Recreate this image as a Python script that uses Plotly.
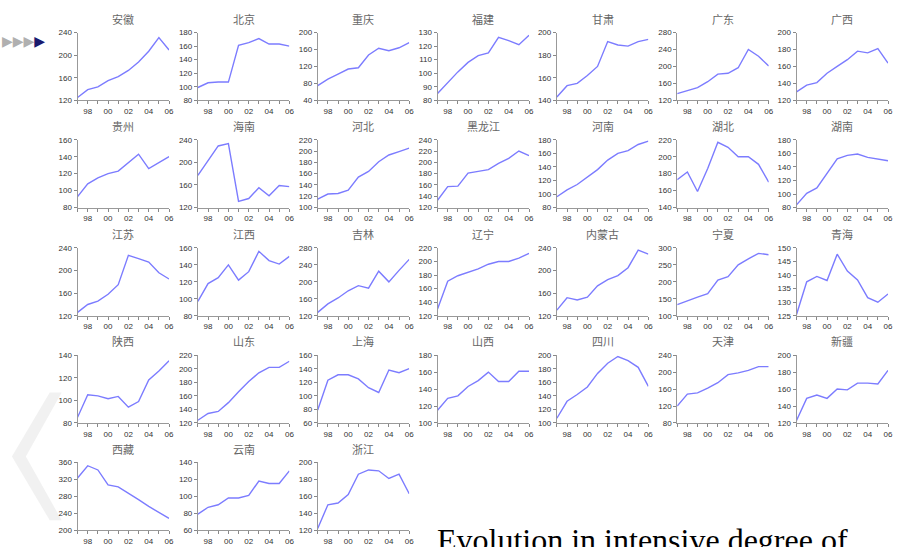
import plotly.graph_objects as go

years = list(range(1997, 2007))
year_labels = ["", "98", "", "00", "", "02", "", "04", "", "06"]

names = ["安徽", "北京", "重庆", "福建", "甘肃", "广东", "广西",
         "贵州", "海南", "河北", "黑龙江", "河南", "湖北", "湖南",
         "江苏", "江西", "吉林", "辽宁", "内蒙古", "宁夏", "青海",
         "陕西", "山东", "上海", "山西", "四川", "天津", "新疆",
         "西藏", "云南", "浙江"]

anhui = [125, 139, 144, 155, 162, 173, 188, 207, 231, 209]
beijing = [99, 106, 107, 107, 161, 165, 171, 163, 163, 160]
chongqing = [75, 90, 102, 114, 117, 147, 163, 157, 164, 176]
fujian = [85, 93, 101, 108, 113, 115, 126.5, 124, 121, 128]
gansu = [143, 153, 155, 162, 170, 192, 189, 188, 192, 194]
guangdong = [136, 143, 150, 164, 182, 184, 197, 240, 224, 201]
guangxi = [130, 138, 141, 152, 160, 168, 178, 176, 181, 164]
guizhou = [93, 108, 115, 120, 123, 133, 143, 126, 133, 140]
hainan = [177, 203, 229, 233, 131, 136, 155, 141, 159, 157]
hebei = [115, 124, 125, 131, 154, 164, 181, 193, 199, 205]
heilongjiang = [133, 157, 158, 181, 184, 187, 198, 207, 220, 212]
henan = [96, 106, 114, 125, 136, 150, 160, 164, 173, 178]
hubei = [173, 182, 159, 186, 217, 211, 200, 200, 191, 170]
hunan = [84, 101, 109, 131, 152, 157, 159, 154, 151, 149]
jiangsu = [126, 140, 146, 158, 175, 227, 221, 215, 196, 185]
jiangxi = [97, 118, 125, 140, 122, 132, 156, 145, 141, 150]
jilin = [128, 148, 162, 179, 191, 185, 225, 200, 227, 253]
liaoning = [130, 171, 179, 184, 189, 196, 200, 200, 205, 212]
neimenggu = [130, 152, 148, 153, 173, 184, 191, 205, 236, 229]
ningxia = [133, 145, 155, 165, 205, 215, 250, 268, 284, 280]
qinghai = [125.5, 137.5, 139.5, 138, 147.7, 141.5, 138.2, 131.7, 130, 133]
shaanxi = [85, 105, 104, 101.5, 103.5, 94, 99, 118, 126, 135]
shandong = [124, 134, 137, 150, 166, 181, 194, 202, 202, 211]
shanghai = [79, 123, 131, 131, 125, 112, 105, 138, 134, 140]
shanxi = [115, 129, 132, 143, 150, 160, 149, 149, 161, 161]
sichuan = [107, 132, 142, 153, 173, 188, 198, 192, 182, 154]
tianjin = [120, 148, 151, 162, 175, 194, 198, 204, 213, 213]
xinjiang = [123, 149, 153, 149, 160, 159, 167, 167, 166, 182]
xizang = [323, 352, 342, 307, 302, 288, 272, 256, 242, 228]
yunnan = [79, 87, 90, 98, 98, 101, 118, 115, 115, 130]
zhejiang = [122, 150, 152, 162, 186, 191, 190, 181, 186, 163]

values = [anhui, beijing, chongqing, fujian, gansu, guangdong, guangxi,
          guizhou, hainan, hebei, heilongjiang, henan, hubei, hunan,
          jiangsu, jiangxi, jilin, liaoning, neimenggu, ningxia, qinghai,
          shaanxi, shandong, shanghai, shanxi, sichuan, tianjin, xinjiang,
          xizang, yunnan, zhejiang]

# y-axis tick scale per panel: (min, max, step)
y_min = [120, 80, 40, 80, 140, 120, 120,
         80, 120, 100, 120, 80, 140, 80,
         120, 80, 120, 120, 120, 100, 125,
         80, 120, 60, 100, 100, 80, 120,
         200, 60, 120]
y_max = [240, 180, 200, 130, 200, 280, 200,
         160, 240, 220, 240, 180, 220, 180,
         240, 160, 280, 220, 240, 300, 150,
         140, 220, 160, 180, 200, 240, 200,
         360, 140, 200]
y_step = [40, 20, 40, 10, 20, 40, 20,
          20, 40, 20, 20, 20, 20, 20,
          40, 20, 40, 20, 40, 50, 5,
          20, 20, 20, 20, 20, 40, 20,
          40, 20, 20]

W, H = 897, 547
col_left = [78, 199, 319.5, 440, 560, 681, 801]
row_top = [29, 138, 248, 357, 466]
pw, ph = 92, 69

fig = go.Figure()
layout = dict(width=W, height=H, margin=dict(l=0, r=0, t=0, b=0),
              paper_bgcolor="white", plot_bgcolor="white", showlegend=False)
annotations = []
tick_font = dict(family="Liberation Sans, Arial", size=8, color="#333333")

for i, (name, vals) in enumerate(zip(names, values)):
    r, c = divmod(i, 7)
    k = i + 1
    xa = "x" if k == 1 else f"x{k}"
    ya = "y" if k == 1 else f"y{k}"
    fig.add_trace(go.Scatter(x=years, y=vals, mode="lines", xaxis=xa, yaxis=ya,
                             line=dict(color="#7c7cff", width=1.4),
                             hoverinfo="x+y"))
    x0 = col_left[c] / W
    x1 = min((col_left[c] + pw) / W, 1.0)
    y1 = 1 - row_top[r] / H
    y0 = 1 - (row_top[r] + ph) / H
    n_ticks = int(round((y_max[i] - y_min[i]) / y_step[i]))
    yticks = [y_min[i] + j * y_step[i] for j in range(n_ticks + 1)]
    layout["xaxis" if k == 1 else f"xaxis{k}"] = dict(
        domain=[x0, x1], anchor=ya, range=[1997, 2006],
        tickvals=years, ticktext=year_labels, ticks="outside", ticklen=3,
        tickcolor="#888888", showline=True, linecolor="#999999", linewidth=1,
        showgrid=False, zeroline=False, tickfont=tick_font, fixedrange=True,
        ticklabeloverflow="allow")
    layout["yaxis" if k == 1 else f"yaxis{k}"] = dict(
        domain=[y0, y1], anchor=xa, range=[y_min[i], y_max[i]],
        tickvals=yticks, ticks="outside", ticklen=3, tickcolor="#888888",
        showline=True, linecolor="#999999", linewidth=1, showgrid=False,
        zeroline=False, tickfont=tick_font, fixedrange=True)
    annotations.append(dict(
        text=name, x=(x0 + x1) / 2, y=1 - (row_top[r] - 14) / H,
        xref="paper", yref="paper", showarrow=False, xanchor="center",
        yanchor="middle",
        font=dict(family="Noto Sans CJK SC", size=11, color="#666666")))

# decorative elements
annotations.append(dict(text="<span style='color:#b0b0b0'>▶▶▶</span><span style='color:#1a1a6e'>▶</span>",
                        x=0, y=1 - 38 / H, xref="paper", yref="paper", showarrow=False,
                        xanchor="left", yanchor="middle",
                        font=dict(family="DejaVu Sans", size=14)))
annotations.append(dict(text="Evolution in intensive degree of", x=437 / W, y=1 - 525 / H,
                        xref="paper", yref="paper", showarrow=False, xanchor="left",
                        yanchor="top",
                        font=dict(family="Liberation Serif, Times New Roman", size=32,
                                  color="#000000")))
layout["annotations"] = annotations
layout["shapes"] = [dict(type="path", xref="paper", yref="paper",
                         path=(f"M {50/W} {1-395/H} L {12/W} {1-460/H} L {50/W} {1-525/H} "
                               f"L {62/W} {1-525/H} L {26/W} {1-460/H} L {62/W} {1-395/H} Z"),
                         fillcolor="rgba(210,210,210,0.3)", line=dict(width=0),
                         layer="below")]
fig.update_layout(**layout)
fig.write_html("out.html",
               config={"displayModeBar": False},
               post_script="document.body.style.margin='0';"
                           "document.documentElement.style.overflow='hidden';")
